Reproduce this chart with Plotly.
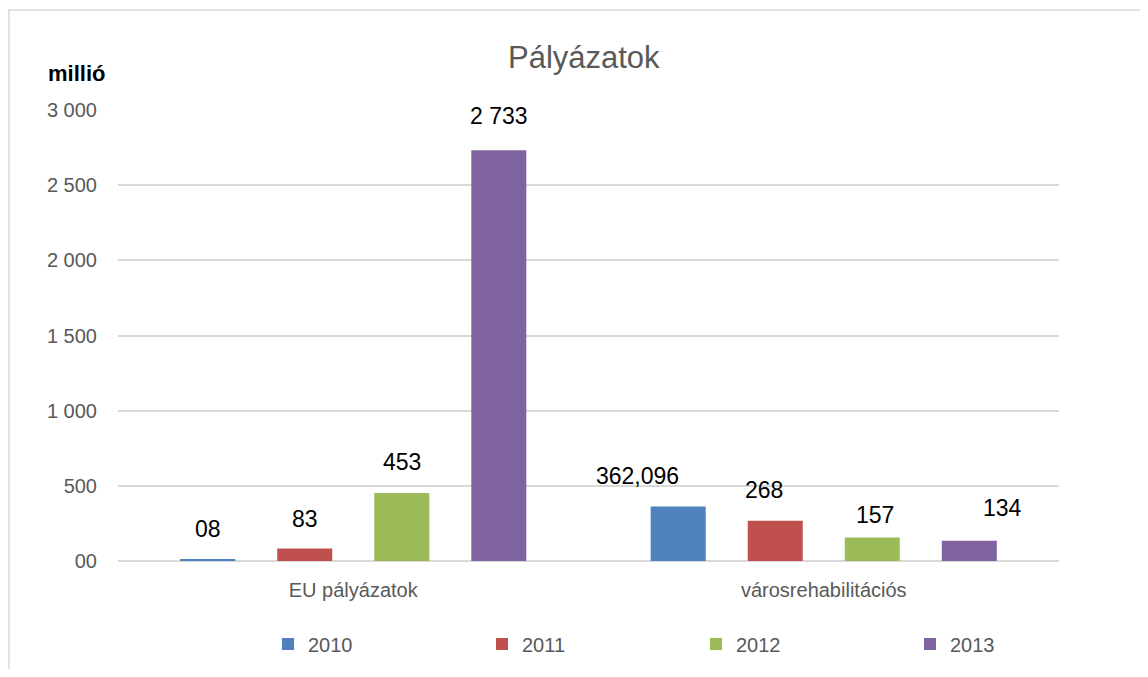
import plotly.graph_objects as go

categories = ["EU pályázatok", "városrehabilitációs"]
years = ["2010", "2011", "2012", "2013"]
values = {
    "2010": [8, 362.096],
    "2011": [83, 268],
    "2012": [453, 157],
    "2013": [2733, 134],
}
labels = {
    "2010": ["08", "362,096"],
    "2011": ["83", "268"],
    "2012": ["453", "157"],
    "2013": ["2 733", "134"],
}
colors = {"2010": "#4F81BD", "2011": "#C0504D", "2012": "#9BBB59", "2013": "#8064A2"}
label_dx = {"2010": [0, -41], "2011": [0, -11], "2012": [0, 3], "2013": [0, 33]}
label_dy = {"2010": [20, 20], "2011": [19, 20], "2012": [20, 11], "2013": [23, 22]}

y_tickvals = [0, 500, 1000, 1500, 2000, 2500, 3000]
y_ticktext = ["00", "500", "1 000", "1 500", "2 000", "2 500", "3 000"]

FONT = "Liberation Sans"
GRAY = "#595959"
BARGAP = 0.175
BARGROUPGAP = 0.433

# page body has an 8px margin; figure sized/margined so plot area lands where the reference has it
ML, MT, PW, PH = 110, 102, 941, 451
FW, FH = 1132, 661

fig = go.Figure()
for y in years:
    fig.add_trace(go.Bar(
        name=y, x=categories, y=values[y],
        marker=dict(color=colors[y], line=dict(width=0)),
        hoverinfo="skip",
    ))

n = len(years)
slot = (1 - BARGAP) / n
for i, y in enumerate(years):
    for j, cat in enumerate(categories):
        xc = j - (1 - BARGAP) / 2 + slot * (i + 0.5)
        fig.add_annotation(
            x=xc, y=values[y][j], xref="x", yref="y",
            text=labels[y][j], showarrow=False,
            yanchor="bottom", xanchor="center",
            xshift=label_dx[y][j], yshift=label_dy[y][j] - 4,
            font=dict(family=FONT, size=23, color="#000000"),
        )

fig.add_annotation(
    x=-0.0436, y=1.082, xref="paper", yref="paper",
    text="<b>millió</b>", showarrow=False, xanchor="center", yanchor="middle",
    font=dict(family=FONT, size=22, color="#000000"),
)

# outer chart border (partially cropped in reference)
fig.add_shape(type="rect", xref="paper", yref="paper",
              x0=(1 - ML) / PW, x1=1.3, y0=-0.4, y1=(PH + MT - 2) / PH,
              line=dict(color="#D9D9D9", width=1.5), fillcolor="rgba(0,0,0,0)", layer="below")

fig.update_layout(
    width=FW, height=FH,
    margin=dict(l=ML, r=FW - ML - PW, t=MT, b=FH - MT - PH, autoexpand=False),
    paper_bgcolor="white", plot_bgcolor="white",
    barmode="group", bargap=BARGAP, bargroupgap=BARGROUPGAP,
    title=dict(text="Pályázatok", x=0.495, xref="paper", xanchor="center",
               y=1 - 49 / FH, yref="container", yanchor="middle",
               font=dict(family=FONT, size=31, color=GRAY)),
    font=dict(family=FONT, color=GRAY),
    showlegend=True,
    legend=dict(orientation="h", x=(268 - 118) / PW, xanchor="left",
                y=(561 - 644) / PH, yanchor="middle",
                entrywidth=169, font=dict(family=FONT, size=20, color=GRAY),
                bgcolor="rgba(0,0,0,0)"),
    xaxis=dict(showgrid=False, showline=False, ticks="", ticklabelstandoff=15,
               tickfont=dict(family=FONT, size=20, color=GRAY), fixedrange=True),
    yaxis=dict(range=[0, 3000], tickvals=y_tickvals, ticktext=y_ticktext,
               showgrid=True, gridcolor="#D9D9D9", gridwidth=1.5,
               zeroline=True, zerolinecolor="#D9D9D9", zerolinewidth=1.5,
               showline=False, ticks="", ticklabelstandoff=20,
               tickfont=dict(family=FONT, size=20, color=GRAY), fixedrange=True),
)

fig.write_html("out.html")
